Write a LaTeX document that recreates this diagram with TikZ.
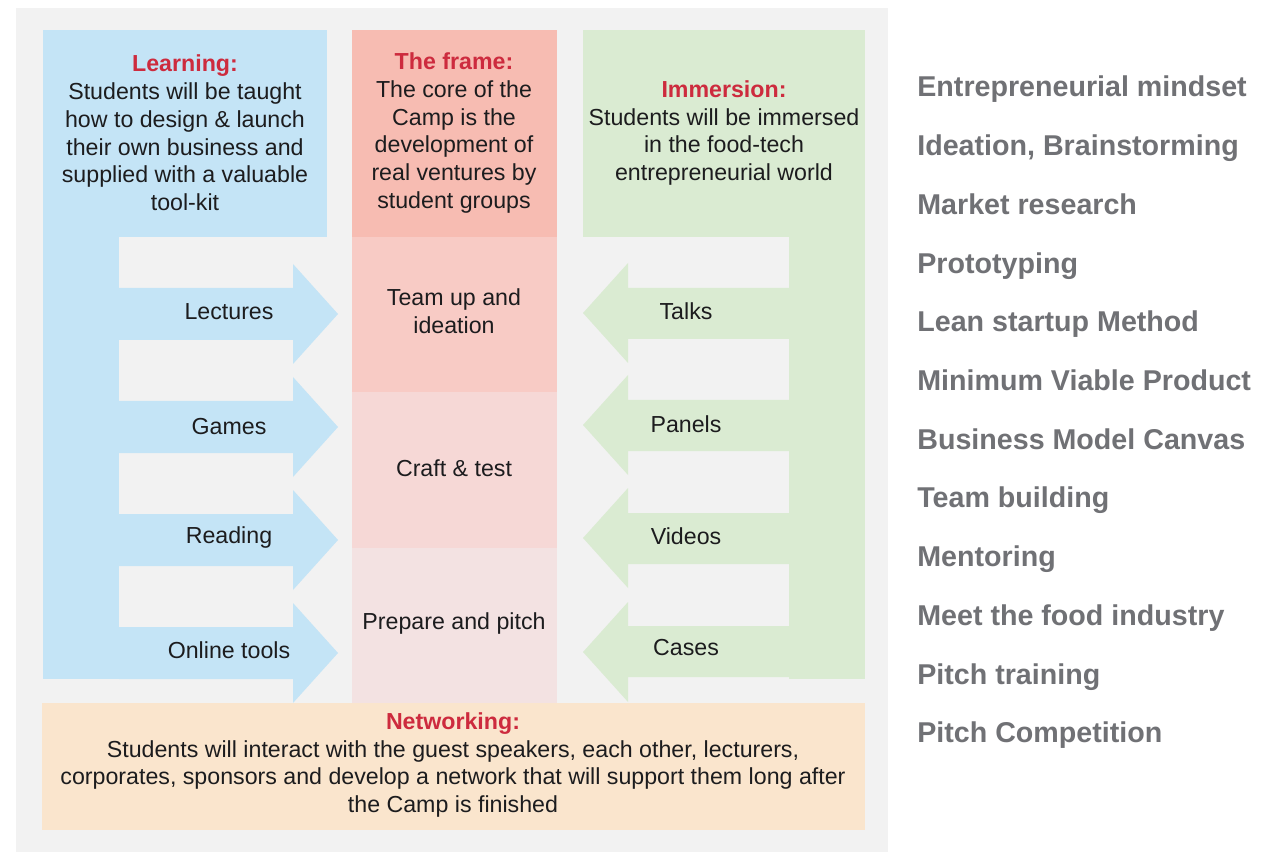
\documentclass[tikz,border=0pt]{standalone}
\usepackage{fontspec}
\setmainfont{Liberation Sans}

\definecolor{panelgrey}{RGB}{242,242,242}
\definecolor{learnblue}{RGB}{196,228,246}
\definecolor{immgreen}{RGB}{218,235,210}
\definecolor{framered}{RGB}{247,188,178}
\definecolor{teamred}{RGB}{248,203,197}
\definecolor{craftred}{RGB}{246,216,214}
\definecolor{pitchred}{RGB}{243,226,226}
\definecolor{netpeach}{RGB}{250,229,205}
\definecolor{titlered}{RGB}{205,43,62}
\definecolor{textdark}{RGB}{28,28,30}
\definecolor{listgrey}{RGB}{112,113,117}

\tikzset{
  boxtext/.style={align=center, text=textdark, font=\fontsize{13.2}{15.8}\selectfont},
  listtext/.style={anchor=base west, inner xsep=0pt, text=listgrey, font=\bfseries\fontsize{16.3}{19}\selectfont},
}
\newcommand{\hd}[1]{{\bfseries\color{titlered}#1}}

\begin{document}
\begin{tikzpicture}[x=0.02cm, y=-0.02cm]
\useasboundingbox (0,0) rectangle (1287,854);
\fill[white] (0,0) rectangle (1287,854);
\fill[panelgrey] (16,8) rectangle (888,852);

% top boxes
\fill[learnblue] (43,30) rectangle (327,237);
\fill[framered] (352,30) rectangle (557,237);
\fill[immgreen] (583,30) rectangle (865,237);

% frame column
\fill[teamred] (352,237) rectangle (557,392);
\fill[craftred] (352,392) rectangle (557,548);
\fill[pitchred] (352,548) rectangle (557,703);

% networking
\fill[netpeach] (42,703) rectangle (865,830);

% learning bar and arrows
\fill[learnblue] (43,237) rectangle (119,679);
\fill[learnblue] (119,288) -- (293,288) -- (293,264) -- (338,314) -- (293,364) -- (293,340) -- (119,340) -- cycle;
\fill[learnblue] (119,401) -- (293,401) -- (293,377) -- (338,427) -- (293,477) -- (293,453) -- (119,453) -- cycle;
\fill[learnblue] (119,514) -- (293,514) -- (293,490) -- (338,540) -- (293,590) -- (293,566) -- (119,566) -- cycle;
\fill[learnblue] (119,627) -- (293,627) -- (293,603) -- (338,653) -- (293,703) -- (293,679) -- (119,679) -- cycle;

% immersion bar and arrows
\fill[immgreen] (789,237) rectangle (865,679);
\fill[immgreen] (789,288) -- (628,288) -- (628,263) -- (583,313) -- (628,363) -- (628,339) -- (789,339) -- cycle;
\fill[immgreen] (789,400) -- (628,400) -- (628,375) -- (583,425) -- (628,475) -- (628,451) -- (789,451) -- cycle;
\fill[immgreen] (789,513) -- (628,513) -- (628,488) -- (583,538) -- (628,588) -- (628,564) -- (789,564) -- cycle;
\fill[immgreen] (789,626) -- (628,626) -- (628,602) -- (583,652) -- (628,702) -- (628,677) -- (789,677) -- cycle;

\node[boxtext] (B1) at (185,133) {\hd{Learning:}\\Students will be taught\\how to design \& launch\\their own business and\\supplied with a valuable\\tool-kit};
\node[boxtext] (F1) at (454,133) {\hd{The frame:}\\The core of the\\Camp is the\\development of\\real ventures by\\student groups};
\node[boxtext] (G1) at (724,133) {\hd{Immersion:}\\Students will be immersed\\in the food-tech\\entrepreneurial world};

\node[boxtext] (F2) at (454,311) {Team up and\\ideation};
\node[boxtext] (F3) at (454,468) {Craft \& test};
\node[boxtext] (F4) at (454,623) {Prepare and pitch};

\node[boxtext] (A1) at (229,312) {Lectures};
\node[boxtext] (A2) at (229,427) {Games};
\node[boxtext] (A3) at (229,538) {Reading};
\node[boxtext] (A4) at (229,650) {Online tools};

\node[boxtext] (C1) at (686,311) {Talks};
\node[boxtext] (C2) at (686,424) {Panels};
\node[boxtext] (C3) at (686,536) {Videos};
\node[boxtext] (C4) at (686,648) {Cases};

\node[boxtext] (W1) at (453,765) {\hd{Networking:}\\Students will interact with the guest speakers, each other, lecturers,\\corporates, sponsors and develop a network that will support them long after\\the Camp is finished};

% topics list
\node[listtext] (K1) at (917,97) {Entrepreneurial mindset};
\node[listtext] (K2) at (917,155.7) {Ideation, Brainstorming};
\node[listtext] (K3) at (917,214.4) {Market research};
\node[listtext] (K4) at (917,273.1) {Prototyping};
\node[listtext] (K5) at (917,331.8) {Lean startup Method};
\node[listtext] (K6) at (917,390.5) {Minimum Viable Product};
\node[listtext] (K7) at (917,449.2) {Business Model Canvas};
\node[listtext] (K8) at (917,507.9) {Team building};
\node[listtext] (K9) at (917,566.6) {Mentoring};
\node[listtext] (K10) at (917,625.3) {Meet the food industry};
\node[listtext] (K11) at (917,684) {Pitch training};
\node[listtext] (K12) at (917,742.7) {Pitch Competition};
\end{tikzpicture}
\end{document}
